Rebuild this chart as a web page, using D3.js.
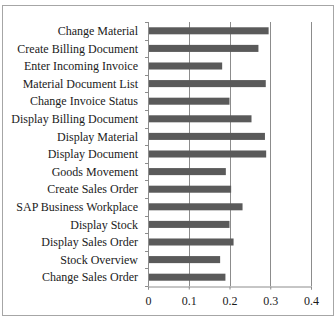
<!DOCTYPE html>
<html>
<head>
<meta charset="utf-8">
<script src="https://cdn.jsdelivr.net/npm/d3@7"></script>
<style>
  body { margin: 0; background: #fff; }
  svg { display: block; font-family: "Liberation Serif", "Times New Roman", serif; }
</style>
</head>
<body>
<svg width="336" height="319"></svg>
<script>
// data
const categories = [
  'Change Material', 'Create Billing Document', 'Enter Incoming Invoice',
  'Material Document List', 'Change Invoice Status', 'Display Billing Document',
  'Display Material', 'Display Document', 'Goods Movement', 'Create Sales Order',
  'SAP Business Workplace', 'Display Stock', 'Display Sales Order',
  'Stock Overview', 'Change Sales Order'
];
const values = [
  0.296, 0.271, 0.182, 0.289, 0.200, 0.254, 0.287, 0.290,
  0.191, 0.204, 0.232, 0.200, 0.210, 0.177, 0.190
];
const xTicks = [0, 0.1, 0.2, 0.3, 0.4];

const svg = d3.select('svg');

// outer frame
svg.append('rect')
  .attr('x', 2.5).attr('y', 5.5)
  .attr('width', 331).attr('height', 310)
  .attr('fill', 'none')
  .attr('stroke', '#a6a6a6')
  .attr('stroke-width', 1);

const margin = { top: 22, left: 148 };
const plotWidth = 163;
const plotHeight = 264;

const g = svg.append('g')
  .attr('transform', `translate(${margin.left},${margin.top})`);

const x = d3.scaleLinear().domain([0, 0.4]).range([0, plotWidth]);
const y = d3.scaleBand().domain(categories).range([0, plotHeight]).paddingInner(0.6).paddingOuter(0.3);
const yEdges = d3.scaleLinear().domain([0, categories.length]).range([0, plotHeight]);

// gridlines
g.selectAll('line.grid')
  .data(xTicks.slice(1))
  .join('line')
  .attr('class', 'grid')
  .attr('x1', d => Math.round(x(d)) + 0.5)
  .attr('x2', d => Math.round(x(d)) + 0.5)
  .attr('y1', 0).attr('y2', plotHeight)
  .attr('stroke', '#8c8c8c');

// bars
g.selectAll('rect.bar')
  .data(values)
  .join('rect')
  .attr('class', 'bar')
  .attr('x', 0)
  .attr('y', (d, i) => y(categories[i]))
  .attr('width', d => x(d))
  .attr('height', y.bandwidth())
  .attr('fill', '#5a5a5a');

// left axis with ticks at category boundaries
g.append('line')
  .attr('x1', 0.5).attr('x2', 0.5)
  .attr('y1', 0).attr('y2', plotHeight)
  .attr('stroke', '#8c8c8c');
g.selectAll('line.ytick')
  .data(d3.range(categories.length + 1))
  .join('line')
  .attr('class', 'ytick')
  .attr('x1', -3).attr('x2', 0.5)
  .attr('y1', d => Math.round(yEdges(d)) + 0.5)
  .attr('y2', d => Math.round(yEdges(d)) + 0.5)
  .attr('stroke', '#8c8c8c');

g.selectAll('text.ylabel')
  .data(categories)
  .join('text')
  .attr('class', 'ylabel')
  .attr('x', -10)
  .attr('y', d => y(d) + y.bandwidth() / 2)
  .attr('dy', '0.35em')
  .attr('text-anchor', 'end')
  .attr('font-size', 12)
  .attr('fill', '#1a1a1a')
  .text(d => d);

// bottom axis
const xAxis = g.append('g')
  .attr('transform', `translate(0,${plotHeight + 0.5})`)
  .call(d3.axisBottom(x).tickValues(xTicks).tickSize(3).tickPadding(7).tickFormat(d3.format('')));
xAxis.select('.domain').attr('stroke', '#8c8c8c');
xAxis.selectAll('.tick line').attr('stroke', '#8c8c8c');
xAxis.selectAll('.tick text')
  .attr('font-size', 12)
  .attr('font-family', '"Liberation Serif", "Times New Roman", serif')
  .attr('fill', '#1a1a1a');
</script>
</body>
</html>
